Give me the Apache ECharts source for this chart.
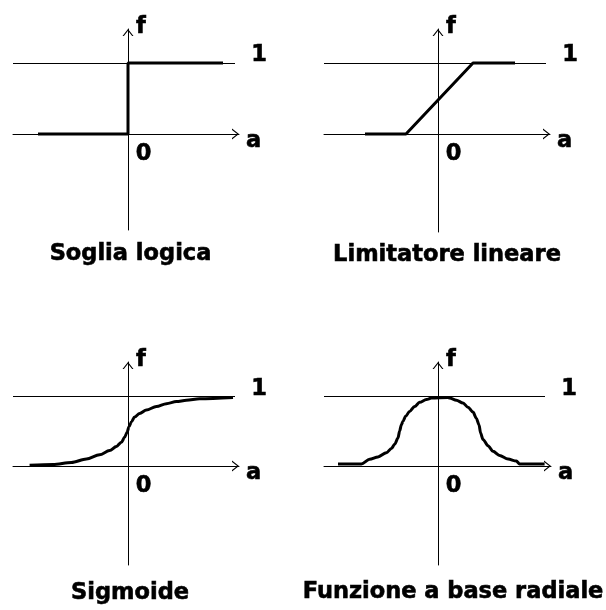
<!DOCTYPE html>
<html>
<head>
<meta charset="utf-8">
<script src="https://cdn.jsdelivr.net/npm/echarts@6/dist/echarts.min.js"></script>
<style>
  html, body { margin: 0; padding: 0; background: #fff; }
  #main { width: 606px; height: 610px; }
</style>
</head>
<body>
<div id="main"></div>
<script>
// titles of the four panels
var titles = ['Soglia logica', 'Limitatore lineare', 'Sigmoide', 'Funzione a base radiale'];

// soglia logica (step)
var stepX = [-4.5, 0, 0, 4.75];
var stepY = [0, 0, 1, 1];

// limitatore lineare (ramp)
var rampX = [-3.65, -1.6, 1.75, 3.85];
var rampY = [0, 0, 1, 1];

// sigmoide
var sigX = [-4.92, -3.75, -2.83, -2.08, -1.42, -0.92, -0.58, -0.33, -0.17, -0.05, 0.05, 0.17, 0.33, 0.58, 0.92, 1.42, 1.92, 2.42, 2.92, 3.58, 5.25];
var sigY = [0.01, 0.02, 0.05, 0.10, 0.16, 0.22, 0.28, 0.34, 0.41, 0.48, 0.56, 0.63, 0.70, 0.75, 0.80, 0.85, 0.89, 0.92, 0.94, 0.96, 0.98];

// funzione a base radiale
var rbfX = [-5.0, -3.83, -3.42, -3.0, -2.58, -2.33, -2.17, -2.0, -1.92, -1.83, -1.75, -1.62, -1.42, -1.17, -0.92, -0.58, -0.33,
            0.5, 0.58, 0.92, 1.25, 1.5, 1.75, 1.92, 2.05, 2.13, 2.25, 2.5, 2.75, 3.08, 3.5, 3.92, 4.08, 5.33];
var rbfY = [0.03, 0.03, 0.095, 0.13, 0.19, 0.25, 0.31, 0.40, 0.50, 0.59, 0.64, 0.71, 0.78, 0.85, 0.91, 0.95, 0.97,
            0.98, 0.97, 0.94, 0.90, 0.84, 0.77, 0.68, 0.59, 0.47, 0.38, 0.29, 0.21, 0.15, 0.10, 0.07, 0.03, 0.03];

// tick labels
var xTickLabel = '0';
var levelLabel = '1';
var xName = 'a';
var yName = 'f';

var FONT = 'DejaVu Sans';
var FS = 22.5;
// open chevron, tip up (rotated by echarts for the x axis)
var chevron = 'path://M0,7 L5.5,0 L11,7 L9.6,7 L5.5,1.8 L1.4,7 Z';

function pairs(xs, ys) {
    var out = [];
    for (var i = 0; i < xs.length; i++) out.push([xs[i], ys[i]]);
    return out;
}

var panels = [
    { grid: { left: 13, top: 29, width: 226, height: 201 }, xMin: -5.75, xMax: 5.55, yMin: -1.352, yMax: 1.479, refEnd: 5.35, oneDy: -8, smooth: false, data: pairs(stepX, stepY) },
    { grid: { left: 324, top: 29, width: 226, height: 203 }, xMin: -5.7, xMax: 5.6, yMin: -1.38, yMax: 1.479, refEnd: 5.4, oneDy: -8, smooth: false, data: pairs(rampX, rampY) },
    { grid: { left: 13, top: 362, width: 226, height: 203 }, xMin: -5.75, xMax: 5.55, yMin: -1.414, yMax: 1.486, refEnd: 5.35, oneDy: -7, smooth: 0.3, data: pairs(sigX, sigY) },
    { grid: { left: 324, top: 362, width: 227, height: 203 }, xMin: -5.7, xMax: 5.65, yMin: -1.414, yMax: 1.486, refEnd: 5.35, oneDy: -7, smooth: 0.3, data: pairs(rbfX, rbfY) }
];
var titlePos = [[130.5, 243], [447, 244], [130, 582], [453, 581]];

var textStyle = {
    color: '#000', fontFamily: FONT, fontWeight: 'bold', fontSize: FS,
    textBorderColor: '#000', textBorderWidth: 0.6
};

var option = {
    animation: false,
    backgroundColor: '#fff',
    title: [],
    grid: [],
    xAxis: [],
    yAxis: [],
    series: []
};

panels.forEach(function (p, i) {
    option.title.push({
        text: titles[i],
        left: titlePos[i][0],
        top: titlePos[i][1],
        padding: 0,
        textAlign: 'center',
        textVerticalAlign: 'top',
        textStyle: textStyle
    });
    option.grid.push(Object.assign({ outerBoundsMode: 'none', containLabel: false }, p.grid));
    option.xAxis.push({
        type: 'value',
        gridIndex: i,
        min: p.xMin,
        max: p.xMax,
        name: xName,
        nameLocation: 'end',
        nameGap: 7,
        nameTextStyle: Object.assign({ align: 'left', verticalAlign: 'top', lineHeight: 15 }, textStyle),
        axisLine: {
            onZero: true,
            lineStyle: { color: '#000', width: 1 },
            symbol: ['none', chevron],
            symbolSize: [11, 7],
            symbolOffset: [0, -3.5]
        },
        axisTick: { show: false },
        splitLine: { show: false },
        axisLabel: { show: false }
    });
    option.yAxis.push({
        type: 'value',
        gridIndex: i,
        min: p.yMin,
        max: p.yMax,
        name: yName,
        nameLocation: 'end',
        nameGap: 2,
        nameTextStyle: Object.assign({ align: 'left', verticalAlign: 'middle', padding: [0, 0, 0, 8] }, textStyle),
        axisLine: {
            onZero: true,
            lineStyle: { color: '#000', width: 1 },
            symbol: ['none', chevron],
            symbolSize: [11, 7],
            symbolOffset: [0, -3.5]
        },
        axisTick: { show: false },
        splitLine: { show: false },
        axisLabel: { show: false }
    });
    option.series.push({
        type: 'line',
        xAxisIndex: i,
        yAxisIndex: i,
        data: p.data,
        showSymbol: false,
        smooth: p.smooth,
        smoothMonotone: 'x',
        lineStyle: { color: '#000', width: 3 },
        emphasis: { disabled: true },
        silent: true,
        z: 3,
        markLine: {
            silent: true,
            symbol: 'none',
            emphasis: { disabled: true },
            lineStyle: { color: '#000', width: 1, type: 'solid' },
            label: { show: false },
            data: [[{ coord: [p.xMin, 1] }, { coord: [p.refEnd, 1] }]]
        },
        markPoint: {
            silent: true,
            symbol: 'circle',
            symbolSize: 0,
            emphasis: { disabled: true },
            label: Object.assign({ show: true, position: 'inside' }, textStyle),
            data: [
                { coord: [0, 0], label: { formatter: xTickLabel, offset: [15.5, 20] } },
                { coord: [p.refEnd, 1], label: { formatter: levelLabel, offset: [24, p.oneDy] } }
            ]
        }
    });
});

var myChart = echarts.init(document.getElementById('main'));
myChart.setOption(option);
</script>
</body>
</html>
